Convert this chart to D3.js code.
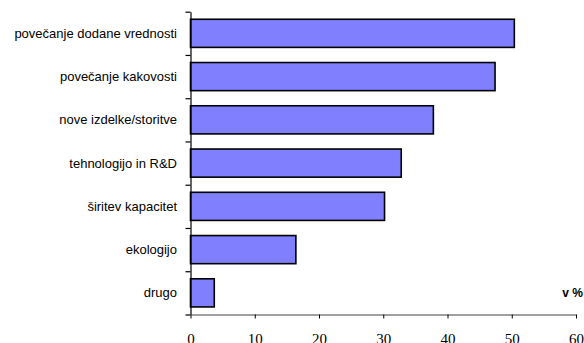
<!DOCTYPE html>
<html>
<head>
<meta charset="utf-8">
<script src="https://cdn.jsdelivr.net/npm/d3@7"></script>
<style>
  html, body { margin: 0; padding: 0; background: #fff; }
  svg { display: block; }
</style>
</head>
<body>
<svg id="chart" width="584" height="343"></svg>
<script>
// Reasons for investment, share of companies (v %)
const categories = [
  "povečanje dodane vrednosti",
  "povečanje kakovosti",
  "nove izdelke/storitve",
  "tehnologijo in R&D",
  "širitev kapacitet",
  "ekologijo",
  "drugo"
];
const values = [50.4, 47.4, 37.8, 32.8, 30.2, 16.4, 3.7];
const xTicks = [0, 10, 20, 30, 40, 50, 60];
const unitLabel = "v %";

const svg = d3.select("#chart");
const plotLeft = 190.5, plotRight = 576, plotTop = 11.7, plotBottom = 314.5;

const x = d3.scaleLinear().domain([0, 60]).range([plotLeft, plotRight]);
const y = d3.scaleBand().domain(categories).range([plotTop, plotBottom])
  .paddingInner(0.35).paddingOuter(0.175);

// bars
svg.append("g").selectAll("rect")
  .data(categories)
  .join("rect")
  .attr("x", x(0))
  .attr("y", d => y(d))
  .attr("width", (d, i) => x(values[i]) - x(0))
  .attr("height", y.bandwidth())
  .attr("fill", "#8080ff")
  .attr("stroke", "#000")
  .attr("stroke-width", 1.6);

// category axis: ticks sit on the band boundaries
const yb = d3.scaleLinear().domain([0, categories.length]).range([plotTop, plotBottom]);
const yAxis = svg.append("g")
  .attr("transform", `translate(${plotLeft},0)`)
  .call(d3.axisLeft(yb).tickValues(d3.range(categories.length + 1))
    .tickSize(5).tickSizeOuter(0).tickFormat(""));
yAxis.select(".domain").attr("stroke", "#000").attr("stroke-width", 1.2);
yAxis.selectAll(".tick line").attr("stroke", "#000").attr("stroke-width", 1.2);

svg.append("g").selectAll("text")
  .data(categories)
  .join("text")
  .attr("x", 177)
  .attr("y", d => y(d) + y.bandwidth() / 2)
  .attr("dy", "0.35em")
  .attr("text-anchor", "end")
  .attr("font-family", "Liberation Sans, Arial, sans-serif")
  .attr("font-size", 13)
  .attr("fill", "#000")
  .text(d => d);

// value axis
const xAxis = svg.append("g")
  .attr("transform", `translate(0,${plotBottom})`)
  .call(d3.axisBottom(x).tickValues(xTicks).tickSize(4).tickSizeOuter(0).tickPadding(15));
xAxis.select(".domain").attr("stroke", "#808080").attr("stroke-width", 1.4);
xAxis.selectAll(".tick line").attr("stroke", "#000").attr("stroke-width", 1);
xAxis.selectAll(".tick text")
  .attr("font-family", "Liberation Serif, Times New Roman, serif")
  .attr("font-size", 15)
  .attr("fill", "#000");

// unit label
svg.append("text")
  .attr("x", 583)
  .attr("y", 297)
  .attr("text-anchor", "end")
  .attr("font-family", "Liberation Sans, Arial, sans-serif")
  .attr("font-weight", "bold")
  .attr("font-size", 12)
  .attr("fill", "#000")
  .text(unitLabel);
</script>
</body>
</html>
